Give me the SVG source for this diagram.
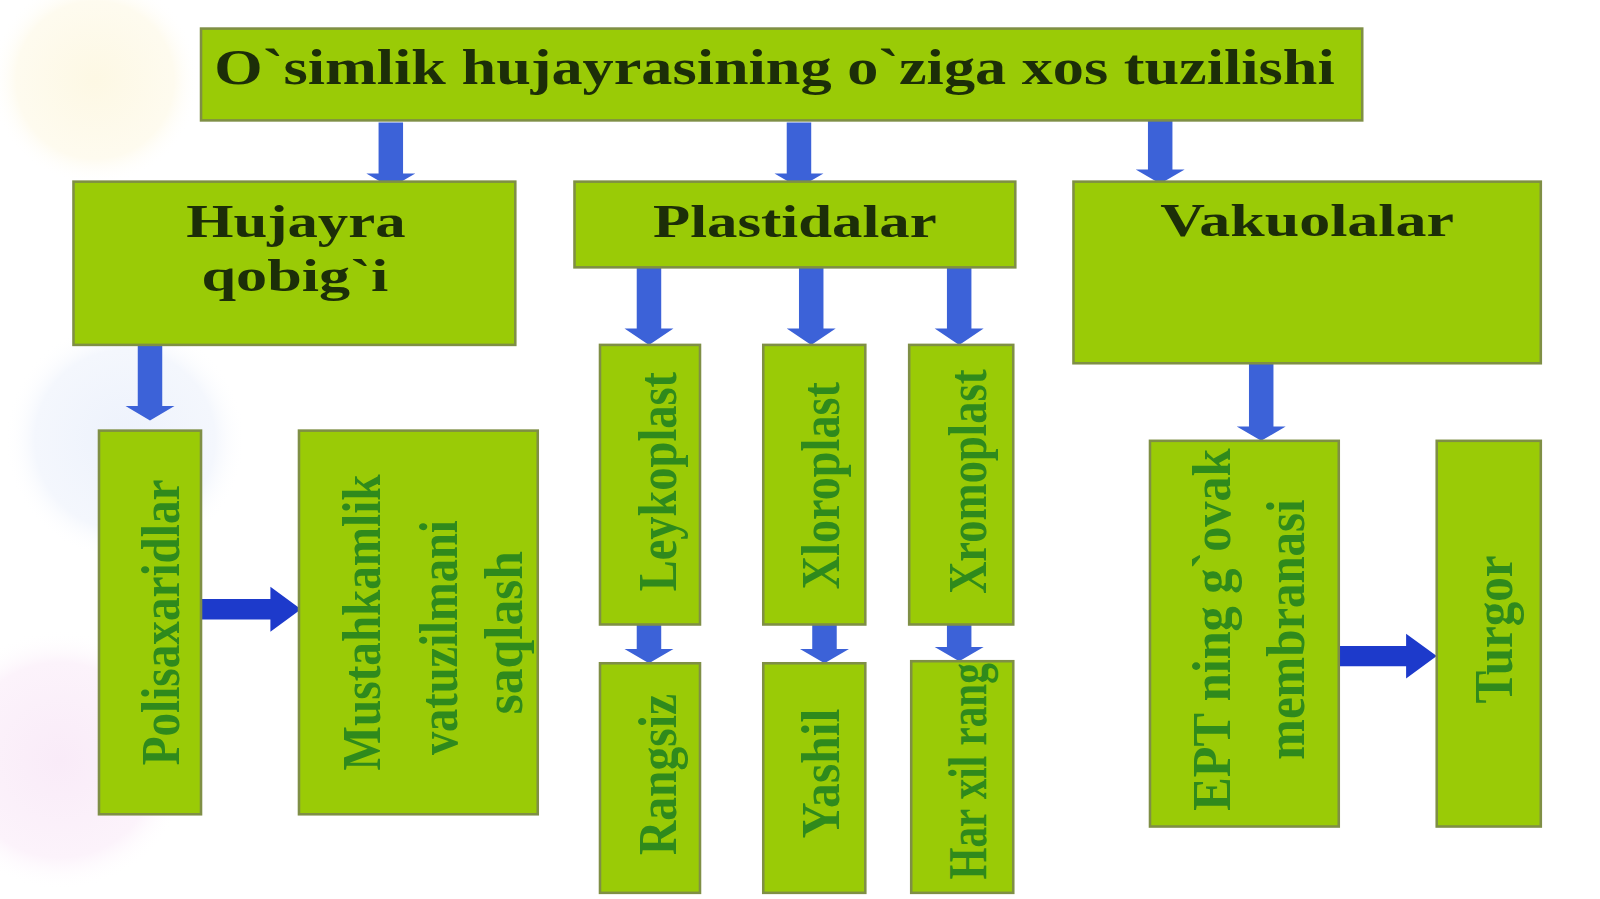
<svg xmlns="http://www.w3.org/2000/svg" width="1600" height="899" viewBox="0 0 1600 899">
<defs>
<style>
.box{fill:#9acb06;stroke:#7f8f45;stroke-width:2.5}
.ht{font-family:"Liberation Serif","Times New Roman",serif;font-weight:bold;fill:#1c2e08;text-anchor:middle}
.vt{font-family:"Liberation Serif","Times New Roman",serif;font-weight:bold;fill:#2f8a1c;text-anchor:middle;font-size:54px}
.av{fill:#3c62d8}
.ah{fill:#1d3acb}
</style>
<radialGradient id="bgY" cx="0.5" cy="0.5" r="0.5"><stop offset="0" stop-color="#fdf8e4"/><stop offset="0.75" stop-color="#fefbef"/><stop offset="1" stop-color="#ffffff" stop-opacity="0"/></radialGradient>
<radialGradient id="bgB" cx="0.5" cy="0.5" r="0.5"><stop offset="0" stop-color="#edf2fc"/><stop offset="0.75" stop-color="#f4f7fd"/><stop offset="1" stop-color="#ffffff" stop-opacity="0"/></radialGradient>
<radialGradient id="bgP" cx="0.5" cy="0.5" r="0.5"><stop offset="0" stop-color="#f9ebf8"/><stop offset="0.75" stop-color="#fcf3fb"/><stop offset="1" stop-color="#ffffff" stop-opacity="0"/></radialGradient>
</defs>
<rect width="1600" height="899" fill="#ffffff"/>
<g id="background">
<circle cx="95" cy="80" r="105" fill="url(#bgY)"/>
<circle cx="125" cy="440" r="120" fill="url(#bgB)"/>
<circle cx="60" cy="760" r="130" fill="url(#bgP)"/>
</g>
<g id="diagram" transform="scale(1.0204)">
<g id="connectors">
<path class="av" d="M371,120 H395 V170 H407 L383,184 L359,170 H371 Z"/>
<path class="av" d="M771,120 H795 V170 H807 L783,184 L759,170 H771 Z"/>
<path class="av" d="M1125,118 H1149 V166 H1161 L1137,180 L1113,166 H1125 Z"/>
<path class="av" d="M135,338 H159 V398 H171 L147,412 L123,398 H135 Z"/>
<path class="av" d="M624,262 H648 V322 H660 L636,338 L612,322 H624 Z"/>
<path class="av" d="M783,262 H807 V322 H819 L795,338 L771,322 H783 Z"/>
<path class="av" d="M928,262 H952 V322 H964 L940,338 L916,322 H928 Z"/>
<path class="av" d="M624,612 H648 V636 H660 L636,650 L612,636 H624 Z"/>
<path class="av" d="M796,612 H820 V636 H832 L808,650 L784,636 H796 Z"/>
<path class="av" d="M928,612 H952 V634 H964 L940,648 L916,634 H928 Z"/>
<path class="av" d="M1224,356 H1248 V418 H1260 L1236,432 L1212,418 H1224 Z"/>
<path class="ah" d="M197,587 H265 V575 L295,597 L265,619 V607 H197 Z"/>
<path class="ah" d="M1312,633 H1378 V621 L1408,643 L1378,665 V653 H1312 Z"/>
</g>

<g id="node-title">
<rect class="box" x="197" y="28" width="1138" height="90"/>
<text class="ht" x="759" y="82" font-size="50" textLength="1098" lengthAdjust="spacingAndGlyphs">O`simlik hujayrasining o`ziga xos tuzilishi</text>
</g>
<g id="node-hujayra">
<rect class="box" x="72" y="178" width="433" height="160"/>
<text class="ht" x="290" y="232" font-size="46" textLength="215" lengthAdjust="spacingAndGlyphs">Hujayra</text>
<text class="ht" x="289" y="285" font-size="46" textLength="183" lengthAdjust="spacingAndGlyphs">qobig`i</text>
</g>
<g id="node-plastidalar">
<rect class="box" x="563" y="178" width="432" height="84"/>
<text class="ht" x="779" y="232" font-size="46" textLength="278" lengthAdjust="spacingAndGlyphs">Plastidalar</text>
</g>
<g id="node-vakuolalar">
<rect class="box" x="1052" y="178" width="458" height="178"/>
<text class="ht" x="1281" y="231" font-size="46" textLength="288" lengthAdjust="spacingAndGlyphs">Vakuolalar</text>
</g>
<g id="node-polisaxaridlar">
<rect class="box" x="97" y="422" width="100" height="376"/>
<text class="vt" transform="translate(175,610) rotate(-90)" textLength="280" lengthAdjust="spacingAndGlyphs">Polisaxaridlar</text>
</g>
<g id="node-mustahkamlik">
<rect class="box" x="293" y="422" width="234" height="376"/>
<text class="vt" transform="translate(372,610) rotate(-90)" textLength="290" lengthAdjust="spacingAndGlyphs">Mustahkamlik</text>
<text class="vt" transform="translate(448,625) rotate(-90)" textLength="230" lengthAdjust="spacingAndGlyphs">vatuzilmani</text>
<text class="vt" transform="translate(512,620) rotate(-90)" textLength="160" lengthAdjust="spacingAndGlyphs">saqlash</text>
</g>
<g id="node-leykoplast">
<rect class="box" x="588" y="338" width="98" height="274"/>
<text class="vt" transform="translate(662,472) rotate(-90)" textLength="215" lengthAdjust="spacingAndGlyphs">Leykoplast</text>
</g>
<g id="node-xloroplast">
<rect class="box" x="748" y="338" width="100" height="274"/>
<text class="vt" transform="translate(822,476) rotate(-90)" textLength="203" lengthAdjust="spacingAndGlyphs">Xloroplast</text>
</g>
<g id="node-xromoplast">
<rect class="box" x="891" y="338" width="102" height="274"/>
<text class="vt" transform="translate(966,472) rotate(-90)" textLength="220" lengthAdjust="spacingAndGlyphs">Xromoplast</text>
</g>
<g id="node-rangsiz">
<rect class="box" x="588" y="650" width="98" height="225"/>
<text class="vt" transform="translate(662,759) rotate(-90)" textLength="158" lengthAdjust="spacingAndGlyphs">Rangsiz</text>
</g>
<g id="node-yashil">
<rect class="box" x="748" y="650" width="100" height="225"/>
<text class="vt" transform="translate(822,758) rotate(-90)" textLength="127" lengthAdjust="spacingAndGlyphs">Yashil</text>
</g>
<g id="node-harxilrang">
<rect class="box" x="893" y="648" width="100" height="227"/>
<text class="vt" transform="translate(966,756) rotate(-90)" textLength="212" lengthAdjust="spacingAndGlyphs">Har xil rang</text>
</g>
<g id="node-ept">
<rect class="box" x="1127" y="432" width="185" height="378"/>
<text class="vt" transform="translate(1205,617) rotate(-90)" textLength="355" lengthAdjust="spacingAndGlyphs">EPT ning g`ovak</text>
<text class="vt" transform="translate(1278,617) rotate(-90)" textLength="255" lengthAdjust="spacingAndGlyphs">membranasi</text>
</g>
<g id="node-turgor">
<rect class="box" x="1408" y="432" width="102" height="378"/>
<text class="vt" transform="translate(1482,617) rotate(-90)" textLength="145" lengthAdjust="spacingAndGlyphs">Turgor</text>
</g>
</g>
</svg>
